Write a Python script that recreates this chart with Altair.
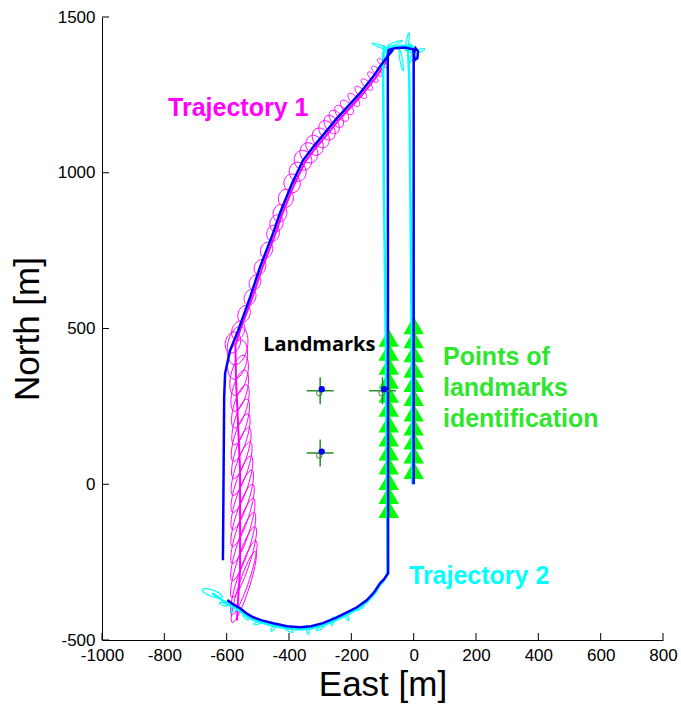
import altair as alt
import numpy as np
import pandas as pd

# ---- axes ----
x_ticks = [-1000, -800, -600, -400, -200, 0, 200, 400, 600, 800]
y_ticks = [-500, 0, 500, 1000, 1500]

# ---- reference paths (blue) ----
true1_east = [-66, -100, -131, -170, -214, -248, -278, -318, -355, -390, -429, -451, -493, -525, -563, -589, -605, -608, -612]
true1_north = [1396, 1352, 1307, 1258, 1210, 1173, 1136, 1088, 1040, 966, 870, 806, 697, 600, 494, 430, 356, 279, -244]

true2_east = [0, 0, 6, 14, 12, 4, -2, -30, -60, -80, -83, -82, -95, -108, -127, -150, -182, -214, -252, -291,
              -329, -365, -406, -451, -487, -515, -537, -557, -580, -598]
true2_north = [0, 1380, 1400, 1390, 1368, 1362, 1396, 1402, 1400, 1394, 1375, -286, -305, -318, -347, -372, -395, -411,
               -430, -446, -456, -459, -456, -446, -437, -427, -414, -398, -385, -372]

# ---- estimated paths ----
est1_east = [-78, -94, -125, -164, -208, -242, -272, -312, -349, -384, -423, -445, -487, -519, -555, -572, -570, -564,
             -557, -557, -557, -564, -567]
est1_north = [1400, 1346, 1301, 1252, 1204, 1167, 1130, 1082, 1034, 960, 864, 800, 691, 594, 500, 446, 334, 205,
              45, -116, -276, -380, -437]

est2_east = [-4, -6, -10, -14, -18, -10, 4, -8, -40, -80, -98, -96, -90, -86, -84, -88, -98, -110, -128, -152, -183,
             -216, -253, -292, -330, -366, -406, -452, -488, -517, -539, -560, -582, -600, -646]
est2_north = [0, 400, 900, 1300, 1390, 1410, 1395, 1405, 1408, 1400, 1385, 1000, 500, 0, -280, -294, -312, -325, -354,
              -380, -402, -420, -438, -454, -463, -466, -463, -454, -444, -434, -421, -405, -392, -382, -350]

# ---- error ellipses, trajectory 1 (center, semi-axes, orientation in degrees) ----
ell1_east = [-100, -118, -131, -150, -170, -192, -214, -231, -248, -263, -278, -298, -318, -336, -355, -372, -390,
             -410, -429, -440, -451, -472, -493, -509, -525, -544, -563, -580,
             -565, -565, -560, -558, -556, -555, -555, -553, -552, -551, -550, -549, -548, -547, -546, -545, -545]
ell1_north = [1352, 1326, 1307, 1283, 1258, 1234, 1210, 1191, 1173, 1155, 1136, 1112, 1088, 1064, 1040, 1003, 966,
              918, 870, 838, 806, 752, 697, 648, 600, 547, 494, 455,
              445, 400, 350, 300, 250, 200, 150, 100, 50, 0, -50, -100, -150, -200, -250, -300, -330]
ell1_a = [20, 22, 22, 24, 25, 26, 28, 30, 31, 32, 33, 33, 33, 33, 32, 31, 30,
          29, 28, 27, 26, 26, 25, 25, 26, 28, 30, 34,
          62, 64, 66, 68, 72, 76, 80, 85, 90, 95, 100, 105, 110, 115, 120, 125, 120]
ell1_b = [8, 9, 9, 10, 11, 12, 14, 16, 18, 21, 24, 26, 27, 28, 28, 27, 26,
          24, 22, 21, 20, 19, 18, 18, 18, 19, 20, 24,
          32, 30, 26, 23, 21, 20, 20, 20, 20, 20, 20, 20, 20, 20, 20, 19, 17]
ell1_angle = [140, 138, 135, 135, 132, 130, 130, 128, 125, 122, 120, 118, 115, 110, 105, 100, 95,
              85, 80, 75, 75, 72, 70, 70, 70, 70, 72, 75,
              80, 78, 76, 75, 74, 74, 73, 73, 72, 72, 72, 72, 72, 72, 72, 72, 72]

# ---- error ellipses, trajectory 2 ----
ell2_east = [-105, -92, -60, -20, -10, 15, -40, -5,
             -120, -170, -215, -260, -300, -340, -400, -450, -500, -540, -580, -610, -646]
ell2_north = [1405, 1385, 1415, 1420, 1395, 1390, 1362, 1370,
              -340, -395, -425, -440, -462, -468, -468, -460, -445, -425, -400, -385, -350]
ell2_a = [30, 25, 25, 30, 20, 22, 35, 20,
          14, 14, 14, 14, 14, 14, 14, 14, 14, 14, 14, 14, 34]
ell2_b = [4, 4, 4, 4, 4, 5, 4, 4,
          4, 4, 4, 4, 4, 4, 4, 4, 4, 4, 4, 4, 10]
ell2_angle = [160, 100, 20, 80, 120, 20, 100, 60,
              60, 40, 120, 80, 30, 100, 150, 60, 20, 130, 70, 160, -20]

# ---- landmarks ----
lm_east = [-300, -300, -100]
lm_north = [300, 100, 300]
lm_est_east = [-295, -295, -95]
lm_est_north = [305, 105, 305]
lm_init_east = [-303, -303, -103]
lm_init_north = [292, 92, 292]

# ---- landmark identification points ----
id_left_east = -80
id_left_north = [470, 425, 380, 335, 290, 245, 195, 150, 105, 60, 10, -35, -80]
id_right_east = 0
id_right_north = [510, 465, 420, 370, 325, 280, 230, 185, 140, 95, 45]

# ---- annotations ----
ann_text = ["Trajectory 1", "Trajectory 2", "Landmarks", "Points of", "landmarks", "identification"]
ann_east = [-788, -15, -483, 94, 94, 94]
ann_north = [1207, -295, 446, 408, 309, 209]


def path_df(east, north):
    return pd.DataFrame({"E": east, "N": north, "i": range(len(east))})


def ellipse_df(east, north, a, b, angle, n=48):
    t = np.linspace(0, 2 * np.pi, n + 1)
    frames = []
    for k, (cx, cy, aa, bb, ph) in enumerate(zip(east, north, a, b, angle)):
        p = np.deg2rad(ph)
        xs = cx + aa * np.cos(t) * np.cos(p) - bb * np.sin(t) * np.sin(p)
        ys = cy + aa * np.cos(t) * np.sin(p) + bb * np.sin(t) * np.cos(p)
        frames.append(pd.DataFrame({"E": xs, "N": ys, "i": range(n + 1), "id": k}))
    return pd.concat(frames, ignore_index=True)


tick_font = "Liberation Sans"
x_axis = alt.Axis(values=x_ticks, title="East [m]", grid=False, ticks=False, tickSize=0,
                  labelExpr="'' + datum.value",
                  labelFont=tick_font, labelFontSize=17, labelColor="black", labelPadding=7,
                  labelFlush=False, labelOverlap=False,
                  titleFont="Liberation Sans", titleFontSize=35, titleFontWeight="normal",
                  titleColor="black", titlePadding=4, domainColor="black", domainWidth=1)
y_axis = alt.Axis(values=y_ticks, title="North [m]", grid=False, ticks=False, tickSize=0,
                  labelExpr="'' + datum.value",
                  labelFont=tick_font, labelFontSize=17, labelColor="black", labelPadding=7,
                  labelFlush=False, labelOverlap=False,
                  titleFont="Liberation Sans", titleFontSize=35, titleFontWeight="normal",
                  titleColor="black", titlePadding=12, domainColor="black", domainWidth=1)

X = alt.X("E:Q", scale=alt.Scale(domain=[x_ticks[0], x_ticks[-1]], nice=False, zero=False), axis=x_axis)
Y = alt.Y("N:Q", scale=alt.Scale(domain=[y_ticks[0], y_ticks[-1]], nice=False, zero=False), axis=y_axis)

ell1 = alt.Chart(ellipse_df(ell1_east, ell1_north, ell1_a, ell1_b, ell1_angle)).mark_line(
    color="#ff00ff", strokeWidth=1).encode(x=X, y=Y, detail="id:N", order="i:Q")
est1 = alt.Chart(path_df(est1_east, est1_north)).mark_line(
    color="#ff00ff", strokeWidth=2).encode(x=X, y=Y, order="i:Q")

id_pts = pd.concat([
    pd.DataFrame({"E": id_left_east, "N": id_left_north}),
    pd.DataFrame({"E": id_right_east, "N": id_right_north}),
], ignore_index=True)
ident = alt.Chart(id_pts).mark_point(shape="triangle-up", size=420, filled=True,
                                     color="#00ff00", opacity=1).encode(x=X, y=Y)

ell2 = alt.Chart(ellipse_df(ell2_east, ell2_north, ell2_a, ell2_b, ell2_angle)).mark_line(
    color="#00ffff", strokeWidth=1.2).encode(x=X, y=Y, detail="id:N", order="i:Q")
est2 = alt.Chart(path_df(est2_east, est2_north)).mark_line(
    color="#00ffff", strokeWidth=2.5).encode(x=X, y=Y, order="i:Q")

true1 = alt.Chart(path_df(true1_east, true1_north)).mark_line(
    color="#0000ff", strokeWidth=2.5).encode(x=X, y=Y, order="i:Q")
true2 = alt.Chart(path_df(true2_east, true2_north)).mark_line(
    color="#0000ff", strokeWidth=2.5).encode(x=X, y=Y, order="i:Q")

lm_cross = alt.Chart(pd.DataFrame({"E": lm_east, "N": lm_north})).mark_point(
    shape="M-1,0L1,0M0,-1L0,1", size=729, filled=False, color="#2e8b2e",
    strokeWidth=1.5, opacity=1).encode(x=X, y=Y)
lm_init = alt.Chart(pd.DataFrame({"E": lm_init_east, "N": lm_init_north})).mark_point(
    shape="circle", size=30, filled=False, color="#2e8b2e", strokeWidth=1, opacity=1).encode(x=X, y=Y)
lm_est = alt.Chart(pd.DataFrame({"E": lm_est_east, "N": lm_est_north})).mark_point(
    shape="circle", size=40, filled=True, color="#0000ff", opacity=1).encode(x=X, y=Y)

ann = pd.DataFrame({"E": ann_east, "N": ann_north, "label": ann_text})
t1 = alt.Chart(ann.iloc[[0]]).mark_text(align="left", baseline="middle", font="Liberation Sans",
                                         fontSize=25, fontWeight="bold", color="#ff00ff").encode(x=X, y=Y, text="label:N")
t2 = alt.Chart(ann.iloc[[1]]).mark_text(align="left", baseline="middle", font="Liberation Sans",
                                         fontSize=25, fontWeight="bold", color="#00ffff").encode(x=X, y=Y, text="label:N")
t3 = alt.Chart(ann.iloc[[2]]).mark_text(align="left", baseline="middle", font="Open Sans",
                                         fontSize=20, fontWeight="bold", color="black").encode(x=X, y=Y, text="label:N")
t4 = alt.Chart(ann.iloc[3:]).mark_text(align="left", baseline="middle", font="Liberation Sans",
                                        fontSize=25, fontWeight="bold", color="#2ee62e").encode(x=X, y=Y, text="label:N")

# inward-pointing axis ticks
xt = alt.Chart(pd.DataFrame({"E": x_ticks, "N": y_ticks[0]})).mark_tick(
    orient="vertical", size=7, thickness=1, yOffset=-3.5, color="black", opacity=1).encode(x=X, y=Y)
yt = alt.Chart(pd.DataFrame({"E": x_ticks[0], "N": y_ticks})).mark_tick(
    orient="horizontal", size=7, thickness=1, xOffset=3.5, color="black", opacity=1).encode(x=X, y=Y)

chart = alt.layer(ell1, est1, ident, ell2, est2, true1, true2, lm_cross, lm_init, lm_est,
                  t1, t2, t3, t4, xt, yt).properties(
    width=561, height=623, autosize="none",
    padding={"left": 102, "top": 17, "right": 18, "bottom": 73},
    background="white",
).configure_view(stroke=None)

chart.save("out.html", embed_options={"renderer": "svg", "actions": False})
